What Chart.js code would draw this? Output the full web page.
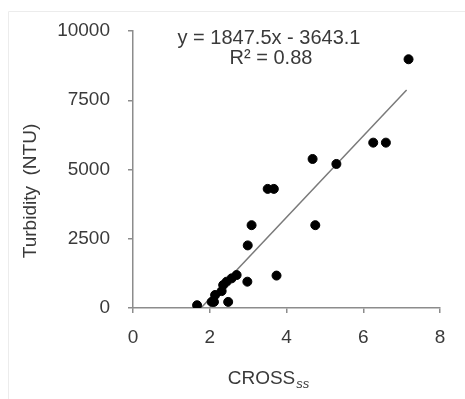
<!DOCTYPE html>
<html>
<head>
<meta charset="utf-8">
<script src="https://cdn.jsdelivr.net/npm/chart.js@4/dist/chart.umd.min.js"></script>
<style>
  html, body { margin: 0; padding: 0; background: #fff; }
  #wrap { width: 465px; height: 399px; position: relative; }
</style>
</head>
<body>
<div id="wrap"><canvas id="chart" width="465" height="399"></canvas></div>
<script>
// data
const crossSS   = [1.67, 2.05, 2.11, 2.48, 2.14, 2.31, 2.35, 2.44, 2.57, 2.70, 2.98, 2.99, 3.09, 3.51, 3.67, 3.74, 4.68, 4.75, 5.30, 6.26, 6.59, 7.18];
const turbidity = [100, 220, 220, 220, 470, 610, 830, 950, 1070, 1190, 950, 2260, 2990, 4300, 4300, 1170, 5380, 2990, 5200, 5970, 5970, 8980];
const trendX    = [1.77, 7.13];
const trendY    = [0, 7870];
const xTicks    = [0, 2, 4, 6, 8];
const yTicks    = [0, 2500, 5000, 7500, 10000];
const eqLine1   = 'y = 1847.5x - 3643.1';
const eqLine2   = 'R\u00B2 = 0.88';

const FONT = '"Liberation Sans", Arial, sans-serif';
const axisGray = '#8c8c8c';
const textCol = '#3a3a3a';

// text drawn by hand: equation, axis titles, faint frame
const extras = {
    id: 'extras',
    afterDraw(chart) {
        const c = chart.ctx;
        c.save();
        c.strokeStyle = '#ececec';
        c.lineWidth = 1;
        c.beginPath();
        c.moveTo(8.5, 399); c.lineTo(8.5, 11.5); c.lineTo(465, 11.5);
        c.stroke();

        c.fillStyle = textCol;
        c.font = '20px ' + FONT;
        c.textAlign = 'center';
        c.textBaseline = 'middle';
        c.fillText(eqLine1, 269, 38);
        c.fillText(eqLine2, 271, 58);

        // y title
        c.save();
        c.translate(31, 191);
        c.rotate(-Math.PI / 2);
        c.font = '19px ' + FONT;
        c.fillText('Turbidity  (NTU)', 0, 0);
        c.restore();

        // x title with subscript
        c.textAlign = 'left';
        c.textBaseline = 'alphabetic';
        c.font = '19px ' + FONT;
        const main = 'CROSS';
        const w1 = c.measureText(main).width;
        c.font = 'italic 13px ' + FONT;
        const w2 = c.measureText('ss').width;
        const x0 = 268 - (w1 + w2) / 2;
        c.font = '19px ' + FONT;
        c.fillText(main, x0, 384);
        c.font = 'italic 13px ' + FONT;
        c.fillText('ss', x0 + w1 + 1, 388);
        c.restore();
    }
};

new Chart(document.getElementById('chart'), {
    type: 'scatter',
    data: {
        datasets: [
            {
                label: 'points',
                data: crossSS.map((x, i) => ({ x, y: turbidity[i] })),
                backgroundColor: '#000',
                borderColor: '#000',
                pointRadius: 4.5,
                pointHoverRadius: 4.5
            },
            {
                label: 'trend',
                type: 'line',
                data: trendX.map((x, i) => ({ x, y: trendY[i] })),
                borderColor: '#7a7a7a',
                borderWidth: 1.5,
                pointRadius: 0,
                fill: false
            }
        ]
    },
    options: {
        responsive: false,
        animation: false,
        layout: { padding: { left: 0, top: 31, right: 25, bottom: 0 } },
        plugins: { legend: { display: false }, tooltip: { enabled: false } },
        scales: {
            x: {
                type: 'linear',
                min: 0, max: 8,
                afterBuildTicks: s => { s.ticks = xTicks.map(v => ({ value: v })); },
                afterFit: s => { s.height = 91; },
                border: { color: axisGray, width: 1.5 },
                grid: { drawOnChartArea: false, drawTicks: true, tickLength: 5, color: axisGray, lineWidth: 1.5 },
                ticks: { color: textCol, font: { family: FONT, size: 19 }, padding: 13, callback: v => String(v) }
            },
            y: {
                type: 'linear',
                min: 0, max: 10000,
                afterBuildTicks: s => { s.ticks = yTicks.map(v => ({ value: v })); },
                afterFit: s => { s.width = 133; },
                border: { color: axisGray, width: 1.5 },
                grid: { drawOnChartArea: false, drawTicks: true, tickLength: 5, color: axisGray, lineWidth: 1.5 },
                ticks: { color: textCol, font: { family: FONT, size: 19 }, padding: 18, callback: v => String(v) }
            }
        }
    },
    plugins: [extras]
});
</script>
</body>
</html>
